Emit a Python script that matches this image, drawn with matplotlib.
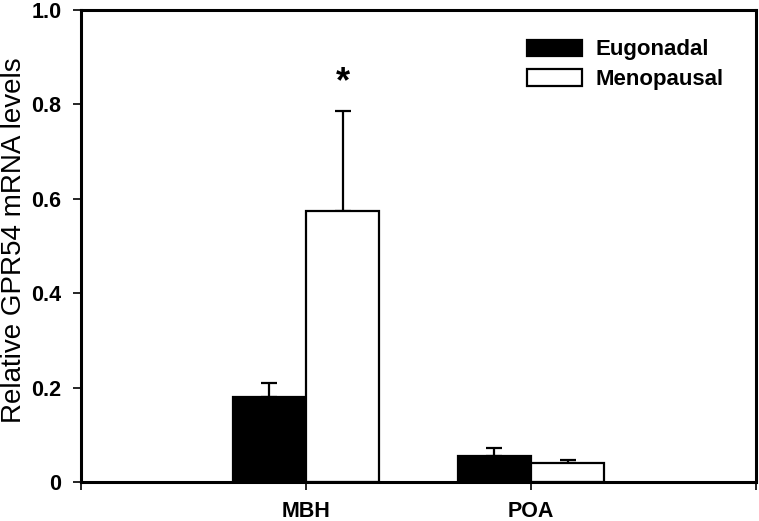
import numpy as np
import matplotlib
matplotlib.use('Agg')
import matplotlib.pyplot as plt

regions = ['MBH', 'POA']
groups = ['Eugonadal', 'Menopausal']
means = {'Eugonadal': [0.180, 0.056], 'Menopausal': [0.575, 0.040]}
sems = {'Eugonadal': [0.029, 0.015], 'Menopausal': [0.212, 0.007]}
colors = {'Eugonadal': 'black', 'Menopausal': 'white'}
y_ticks = [0, 0.2, 0.4, 0.6, 0.8, 1.0]
y_tick_labels = ['0', '0.2', '0.4', '0.6', '0.8', '1.0']

plt.rcParams['font.family'] = ['Liberation Sans', 'DejaVu Sans']

fig = plt.figure(figsize=(7.59, 5.21), dpi=100)
ax = fig.add_axes([81 / 759, 1 - 482 / 521, 675 / 759, 472 / 521])

x = np.arange(1, len(regions) + 1)
width = 0.325
offsets = {'Eugonadal': -width / 2, 'Menopausal': width / 2}

for g in groups:
    ax.bar(x + offsets[g], means[g], width, color=colors[g], edgecolor='black',
           linewidth=1.6, label=g, zorder=2)
    ax.errorbar(x + offsets[g], means[g], yerr=[np.zeros(len(regions)), sems[g]],
                fmt='none', ecolor='black', elinewidth=1.6, capsize=5.5, capthick=1.6, zorder=1)

# significance marker
ax.text(x[0] + offsets['Menopausal'], means['Menopausal'][0] + sems['Menopausal'][0] + 0.022, '*',
        ha='center', va='bottom', fontsize=26, fontweight='bold')

ax.set_xlim(0, 3)
ax.set_ylim(0, 1.0)
ax.set_xticks([0, 1, 2, 3])
ax.set_xticklabels(['', 'MBH', 'POA', ''], fontsize=15.5, fontweight='bold')
ax.set_yticks(y_ticks)
ax.set_yticklabels(y_tick_labels, fontsize=15.5, fontweight='bold')
ax.tick_params(axis='both', direction='out', length=6, width=1.2, pad=8)
for s in ax.spines.values():
    s.set_linewidth(2.2)

ax.set_ylabel('Relative GPR54 mRNA levels', fontsize=20)
ax.yaxis.set_label_coords(-0.08, 0.513)

leg = ax.legend(loc='upper right', bbox_to_anchor=(0.981, 0.98), frameon=False,
                prop={'size': 16, 'weight': 'bold'}, handlelength=2.45, handleheight=0.75,
                labelspacing=0.4, handletextpad=0.6)
for h in leg.legend_handles:
    h.set_linewidth(1.6)

fig.savefig('out.png', dpi=100)
